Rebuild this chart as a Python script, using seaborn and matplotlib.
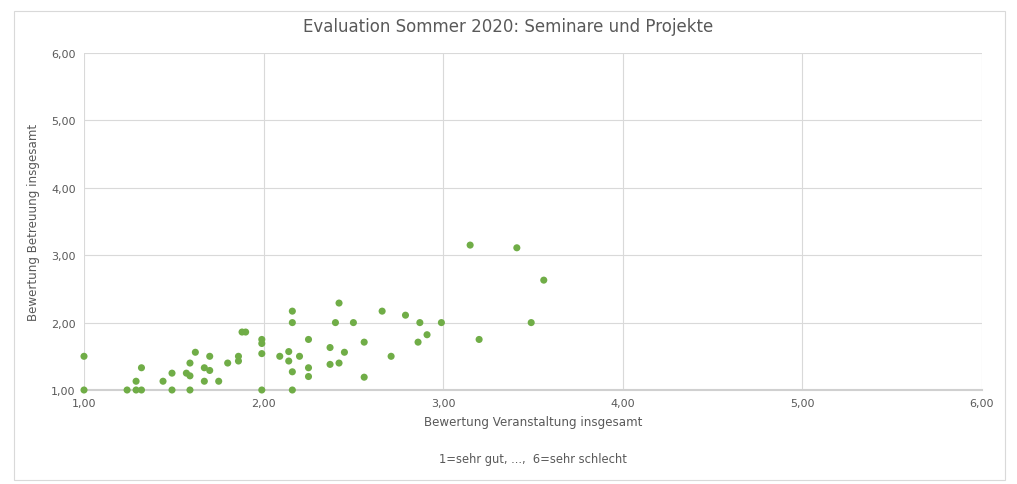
import pandas as pd
import matplotlib.pyplot as plt
import seaborn as sns
from matplotlib.patches import Rectangle
from matplotlib.ticker import FuncFormatter

# Werte
veranstaltung = [
    1.00, 1.00, 1.24, 1.29, 1.29, 1.32, 1.32, 1.44, 1.49, 1.49,
    1.57, 1.59, 1.59, 1.59, 1.62, 1.67, 1.67, 1.70, 1.70, 1.75,
    1.80, 1.86, 1.86, 1.88, 1.90, 1.99, 1.99, 1.99, 1.99, 2.09,
    2.14, 2.14, 2.16, 2.16, 2.16, 2.16, 2.20, 2.25, 2.25, 2.25,
    2.37, 2.37, 2.40, 2.42, 2.42, 2.45, 2.50, 2.56, 2.56, 2.66,
    2.71, 2.79, 2.86, 2.87, 2.91, 2.99, 3.15, 3.20, 3.41, 3.49,
    3.56,
]
betreuung = [
    1.50, 1.00, 1.00, 1.00, 1.13, 1.00, 1.33, 1.13, 1.00, 1.25,
    1.25, 1.21, 1.00, 1.40, 1.56, 1.33, 1.13, 1.50, 1.29, 1.13,
    1.40, 1.43, 1.50, 1.86, 1.86, 1.75, 1.69, 1.54, 1.00, 1.50,
    1.57, 1.43, 2.17, 2.00, 1.27, 1.00, 1.50, 1.75, 1.33, 1.20,
    1.63, 1.38, 2.00, 1.40, 2.29, 1.56, 2.00, 1.71, 1.19, 2.17,
    1.50, 2.11, 1.71, 2.00, 1.82, 2.00, 3.15, 1.75, 3.11, 2.00,
    2.63,
]
ticks = [1, 2, 3, 4, 5, 6]

df = pd.DataFrame({"Veranstaltung": veranstaltung, "Betreuung": betreuung})

sns.set_theme(style="white")
plt.rcParams["font.family"] = ["Liberation Sans Narrow", "DejaVu Sans"]
grey = "#595959"

fig = plt.figure(figsize=(10.17, 4.85), dpi=100)
fig.patches.append(Rectangle((14 / 1017, 1 - 481 / 485), 991 / 1017, 469 / 485,
                             transform=fig.transFigure, fill=False,
                             edgecolor="#d9d9d9", linewidth=0.8))
ax = fig.add_axes([84 / 1017, 1 - 391 / 485, 898 / 1017, 337 / 485])

sns.scatterplot(data=df, x="Veranstaltung", y="Betreuung", ax=ax,
                color="#70ad47", s=26, edgecolor="none", zorder=3, clip_on=False)

ax.set_xlim(1, 6)
ax.set_ylim(1, 6)
ax.set_xticks(ticks)
ax.set_yticks(ticks)
fmt = FuncFormatter(lambda v, p: f"{v:.2f}".replace(".", ","))
ax.xaxis.set_major_formatter(fmt)
ax.yaxis.set_major_formatter(fmt)
ax.tick_params(colors=grey, labelsize=8, length=0, pad=6)
ax.grid(True, color="#d9d9d9", linewidth=0.8)
ax.set_axisbelow(True)
for side in ["top", "right", "left"]:
    ax.spines[side].set_visible(False)
ax.spines["bottom"].set_color("#d0d0d0")
ax.spines["bottom"].set_linewidth(1.5)

ax.set_xlabel("Bewertung Veranstaltung insgesamt", color=grey, fontsize=8.6, labelpad=5)
ax.set_ylabel("Bewertung Betreuung insgesamt", color=grey, fontsize=8.6)
ax.yaxis.set_label_coords(-44 / 898, 0.5)

fig.text(0.5, 1 - 27 / 485, "Evaluation Sommer 2020: Seminare und Projekte",
         ha="center", va="center", fontsize=12, color=grey)
fig.text(533 / 1017, 1 - 460 / 485, "1=sehr gut, ...,  6=sehr schlecht",
         ha="center", va="center", fontsize=8.3, color=grey)

fig.savefig("out.png", dpi=100)
